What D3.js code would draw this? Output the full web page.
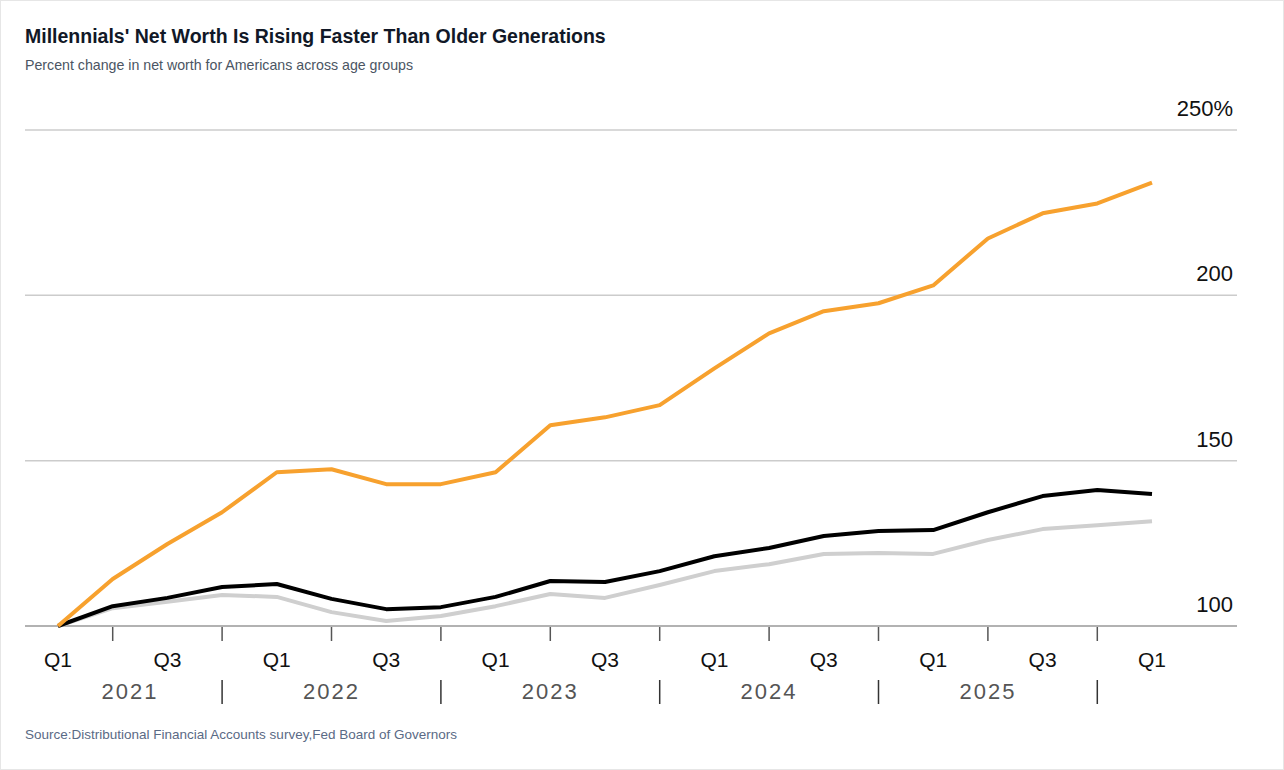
<!DOCTYPE html>
<html><head><meta charset="utf-8">
<script src="https://cdn.jsdelivr.net/npm/d3@7/dist/d3.min.js"></script>
<style>
body{margin:0;background:#fff;font-family:"Helvetica Neue",Arial,"Liberation Sans",sans-serif;}
</style></head>
<body><svg id="chart" width="1284" height="770"></svg>
<script>
var quarters = ["Q1","Q2","Q3","Q4","Q1","Q2","Q3","Q4","Q1","Q2","Q3","Q4","Q1","Q2","Q3","Q4","Q1","Q2","Q3","Q4","Q1"];
var years = ["2021","2022","2023","2024","2025"];
var millennials = [100,114.2,124.8,134.4,146.5,147.4,142.9,142.9,146.5,160.7,163.1,166.8,177.9,188.5,195.2,197.6,203,217.2,224.8,227.8,234.1];
var genX = [100,106,108.5,111.8,112.7,108.2,105.1,105.7,108.8,113.6,113.3,116.6,121.1,123.6,127.2,128.7,129,134.4,139.3,141.1,139.9];
var boomers = [100,105.4,107.3,109.4,108.8,104.2,101.5,103,106,109.7,108.5,112.4,116.6,118.7,121.8,122.1,121.8,126,129.3,130.5,131.7];
var yTicks = [100,150,200,250];

var svg = d3.select("#chart");
svg.append("rect").attr("x",0.5).attr("y",0.5).attr("width",1283).attr("height",769)
  .attr("fill","none").attr("stroke","#e6e6e6");

svg.append("text").attr("x",25).attr("y",43).attr("font-size",19.5).attr("font-weight",700)
  .attr("fill","#111827").text("Millennials' Net Worth Is Rising Faster Than Older Generations");
svg.append("text").attr("x",25).attr("y",70).attr("font-size",14.2).attr("fill","#4b5563")
  .text("Percent change in net worth for Americans across age groups");
svg.append("text").attr("x",25).attr("y",739).attr("font-size",13.5).attr("fill","#5a6a85")
  .text("Source:Distributional Financial Accounts survey,Fed Board of Governors");

var x = d3.scaleLinear().domain([0,20]).range([58,1152]);
var y = d3.scaleLinear().domain([100,250]).range([626,130]);

svg.selectAll("line.grid").data(yTicks).enter().append("line")
  .attr("x1",25).attr("x2",1237).attr("y1",d=>y(d)).attr("y2",d=>y(d))
  .attr("stroke",d=>d===100?"#999":"#ccc").attr("stroke-width",1.5);
svg.selectAll("text.yl").data(yTicks).enter().append("text")
  .attr("x",1233).attr("y",d=>y(d)-14).attr("text-anchor","end")
  .attr("font-size",22).attr("fill","#111").text(d=>d===250?d+"%":d);

// quarter ticks
var idx = d3.range(21);
svg.selectAll("line.qt").data(idx.filter(i=>i%2===1)).enter().append("line")
  .attr("x1",d=>x(d)).attr("x2",d=>x(d)).attr("y1",627).attr("y2",641)
  .attr("stroke","#555").attr("stroke-width",1.5);
svg.selectAll("text.q").data(idx.filter(i=>i%2===0)).enter().append("text")
  .attr("x",d=>x(d)).attr("y",667).attr("text-anchor","middle")
  .attr("font-size",21).attr("fill","#111").text(d=>quarters[d]);
svg.selectAll("line.ysep").data(years).enter().append("line")
  .attr("x1",(d,i)=>x(i*4+3)).attr("x2",(d,i)=>x(i*4+3)).attr("y1",680).attr("y2",704)
  .attr("stroke","#333").attr("stroke-width",1.5);
svg.selectAll("text.yr").data(years).enter().append("text")
  .attr("x",(d,i)=>i===0?130:x(i*4+1)).attr("y",699).attr("text-anchor","middle")
  .attr("font-size",22).attr("letter-spacing",2).attr("fill","#555").text(d=>d);

var line = d3.line().x((d,i)=>x(i)).y(d=>y(d));
[[boomers,"#cfcfcf"],[genX,"#000"],[millennials,"#f7a12e"]].forEach(function(s){
  svg.append("path").datum(s[0]).attr("d",line).attr("fill","none")
    .attr("stroke",s[1]).attr("stroke-width",4).attr("stroke-linejoin","round");
});
</script></body></html>
